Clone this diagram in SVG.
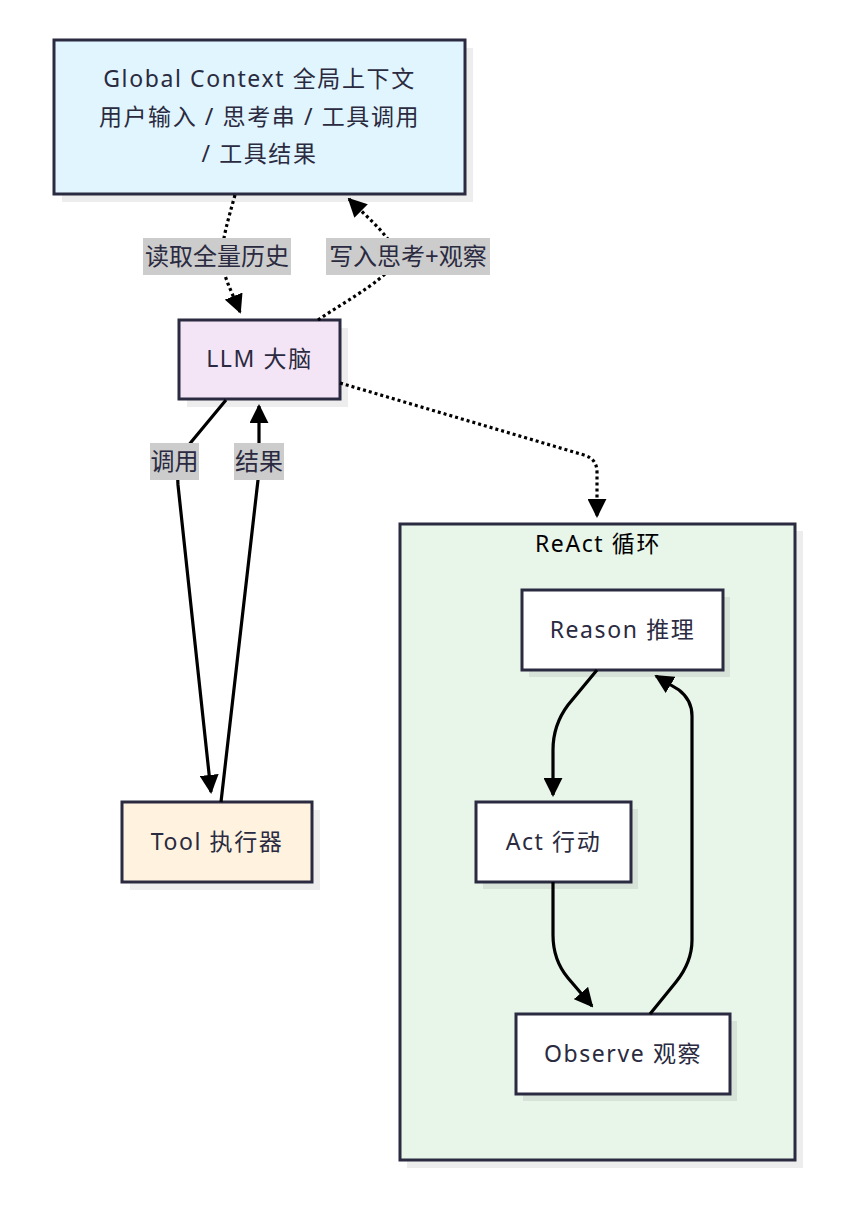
<svg xmlns="http://www.w3.org/2000/svg" width="867" height="1223" viewBox="0 0 867 1223">
<defs>
<marker id="arr" viewBox="0 0 10 10" refX="9" refY="5" markerWidth="19" markerHeight="19" markerUnits="userSpaceOnUse" orient="auto">
<path d="M0,0 L10,5 L0,10 z" fill="#000"/>
</marker>
</defs>
<style>
.node rect.box{stroke:#2a2a40;stroke-width:3}
.shadow{fill:#000;opacity:0.07}
.t{font-family:"Noto Sans","Noto Sans CJK SC",sans-serif;font-size:23px;fill:#2a2a40;text-anchor:middle;letter-spacing:1.6px}
.lbl{font-family:"Noto Sans","Noto Sans CJK SC",sans-serif;font-size:24px;fill:#2a2a40;text-anchor:middle}
.lblbg{fill:#cccccc}
.e{fill:none;stroke:#000;stroke-width:3.2}
.dot{stroke-dasharray:3 3}
</style>
<rect width="867" height="1223" fill="#fff"/>

<g id="react-loop">
<rect class="shadow" x="407" y="531" width="396" height="637"/>
<rect x="400" y="524" width="395" height="636" fill="#e8f5e9" stroke="#2a2a40" stroke-width="3"/>
<text x="598" y="552" font-family="Noto Sans, Noto Sans CJK SC, sans-serif" font-size="23" fill="#000" text-anchor="middle" letter-spacing="1.6">ReAct 循环</text>
</g>

<g id="global-context" class="node">
<rect class="shadow" x="62" y="48" width="411" height="154"/>
<rect class="box" x="54" y="40" width="411" height="154" fill="#e1f5fe"/>
<text class="t" x="259.5" y="87">Global Context 全局上下文</text>
<text class="t" x="259.5" y="125">用户输入 / 思考串 / 工具调用</text>
<text class="t" x="259.5" y="162">/ 工具结果</text>
</g>

<g id="llm" class="node">
<rect class="shadow" x="187" y="328" width="161" height="79"/>
<rect class="box" x="179" y="320" width="161" height="79" fill="#f3e5f5"/>
<text class="t" x="259.5" y="367">LLM 大脑</text>
</g>

<g id="tool" class="node">
<rect class="shadow" x="130" y="810" width="190" height="80"/>
<rect class="box" x="122" y="802" width="190" height="80" fill="#fff3e0"/>
<text class="t" x="217" y="850">Tool 执行器</text>
</g>

<g id="reason" class="node">
<rect class="shadow" x="529" y="597" width="201" height="80"/>
<rect class="box" x="522" y="590" width="201" height="80" fill="#fff"/>
<text class="t" x="622.5" y="638">Reason 推理</text>
</g>

<g id="act" class="node">
<rect class="shadow" x="483" y="809" width="155" height="80"/>
<rect class="box" x="476" y="802" width="155" height="80" fill="#fff"/>
<text class="t" x="553.5" y="850">Act 行动</text>
</g>

<g id="observe" class="node">
<rect class="shadow" x="523" y="1021" width="214" height="80"/>
<rect class="box" x="516" y="1014" width="214" height="80" fill="#fff"/>
<text class="t" x="623" y="1062">Observe 观察</text>
</g>

<g id="connectors">
<path class="e dot" d="M235,195 C228,220 222,240 222,257 C222,275 232,292 240,312" marker-end="url(#arr)"/>
<path class="e dot" d="M318,320 C350,298 395,275 395,257 C395,240 370,220 349,199" marker-end="url(#arr)"/>
<path class="e dot" d="M340,383 L584,455 Q597,459 597,472 L597,516" marker-end="url(#arr)"/>
<path class="e" d="M226,400 L192,441 Q176,460 178,485 L211,792" marker-end="url(#arr)"/>
<path class="e" d="M221,802 L258,480 Q260,462 259,445 L259,406" marker-end="url(#arr)"/>
<path class="e" d="M597,670 L568,705 Q553,725 553,750 L553,795" marker-end="url(#arr)"/>
<path class="e" d="M553,882 L553,935 Q553,960 568,978 L592,1006" marker-end="url(#arr)"/>
<path class="e" d="M650,1014 L676,982 Q692,962 692,940 L692,716 Q692,700 679,690 L656,676" marker-end="url(#arr)"/>

<rect class="lblbg" x="143" y="238" width="148" height="37"/>
<text class="lbl" x="217" y="265">读取全量历史</text>
<rect class="lblbg" x="326" y="238" width="164" height="37"/>
<text class="lbl" x="408" y="265">写入思考+观察</text>
<rect class="lblbg" x="150" y="443" width="49" height="37"/>
<text class="lbl" x="174.5" y="470">调用</text>
<rect class="lblbg" x="234" y="443" width="50" height="37"/>
<text class="lbl" x="259" y="470">结果</text>
</g>
</svg>
